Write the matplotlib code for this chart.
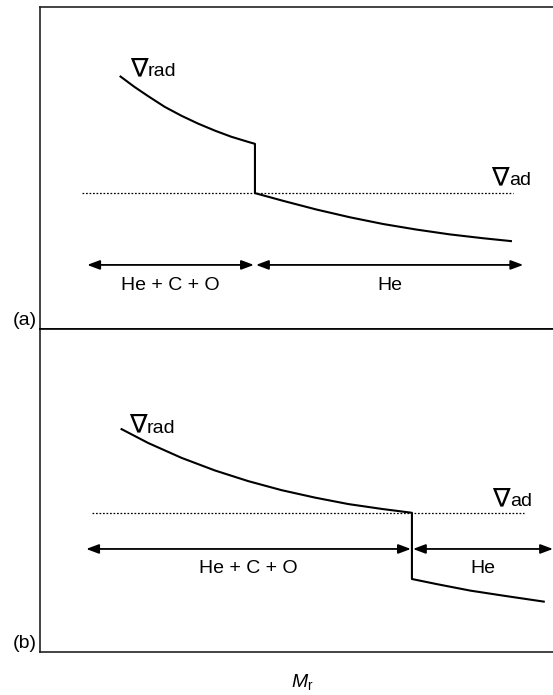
import matplotlib
matplotlib.use('Agg')
import matplotlib.pyplot as plt

plt.rcParams['font.family'] = ['Liberation Sans', 'DejaVu Sans']
plt.rcParams['mathtext.fontset'] = 'custom'
plt.rcParams['mathtext.rm'] = 'Liberation Sans'
plt.rcParams['mathtext.it'] = 'Liberation Sans:italic'

# ---- panel (a): gradient jumps down at the composition boundary
a_core_x = [15.7, 18.4, 21.0, 24.3, 27.6, 30.8, 34.1, 37.3, 40.6, 41.9]
a_core_y = [78.4, 75.2, 72.4, 69.0, 66.2, 63.8, 61.6, 59.7, 58.1, 57.5]
a_env_x = [41.9, 47.4, 53.9, 60.4, 66.9, 73.3, 79.8, 86.3, 91.8]
a_env_y = [42.2, 39.8, 37.1, 34.7, 32.6, 30.9, 29.4, 28.2, 27.3]
a_ad_y = 42.2
a_ad_x = [8.2, 92.2]
a_zones = [(9.2, 41.7, 'He + C + O'), (42.1, 94.2, 'He')]
a_zone_y = 19.9
a_label_y = 12.1

# ---- panel (b): boundary moved outwards, rad ~ ad just inside it
b_core_x = [15.9, 21.1, 27.6, 34.1, 40.6, 47.1, 53.6, 60.1, 66.6, 72.5]
b_core_y = [69.0, 64.7, 60.1, 56.2, 52.9, 50.1, 47.8, 45.8, 44.3, 43.1]
b_env_x = [72.5, 77.4, 83.9, 90.5, 98.2]
b_env_y = [22.6, 21.0, 19.0, 17.4, 15.6]
b_ad_y = 43.1
b_ad_x = [10.1, 94.3]
b_zones = [(9.0, 72.3, 'He + C + O'), (72.7, 100.0, 'He')]
b_zone_y = 31.9
b_label_y = 24.5

fig = plt.figure(figsize=(5.53, 6.95), dpi=100)
ax_a = fig.add_axes([40/553, 1 - 329/695, 513/553, 322/695])
ax_b = fig.add_axes([40/553, 1 - 652/695, 513/553, 323/695])

frame = '#222222'
fs = 14


def nabla(ax, x, x_sub, y, sub):
    # big nabla followed by the subscript word on the same baseline
    ax.text(x, y, '\u2207', ha='left', va='baseline', fontsize=19,
            family=['DejaVu Sans'])
    ax.text(x_sub, y, sub, ha='left', va='baseline', fontsize=fs)


def draw_panel(ax, cx, cy, ex, ey, ad_x, ad_y, zones, zone_y, label_y,
               rad_pos, ad_pos, tag):
    ax.set_xlim(0, 100)
    ax.set_ylim(0, 100)
    ax.set_xticks([])
    ax.set_yticks([])
    for s in ax.spines.values():
        s.set_color(frame)
        s.set_linewidth(1.2)
    ax.spines['right'].set_visible(False)

    # radiative gradient with the jump at the boundary
    xs = cx + ex
    ys = cy + ey
    ax.plot(xs, ys, color='black', lw=1.5, solid_joinstyle='round')
    # adiabatic gradient
    ax.plot(ad_x, [ad_y, ad_y], color='black', lw=0.9, linestyle=(0, (1.4, 1.4)))

    for x0, x1, lab in zones:
        ax.annotate('', xy=(x0, zone_y), xytext=(x1, zone_y),
                    arrowprops=dict(arrowstyle='<|-|>,head_length=0.75,head_width=0.28',
                                    color='black', lw=1.3, shrinkA=0, shrinkB=0))
        ax.text((x0 + x1) / 2, label_y, lab, ha='center', va='baseline', fontsize=fs)

    nabla(ax, rad_pos[0], rad_pos[0] + 3.4, rad_pos[1], 'rad')
    nabla(ax, ad_pos[0], ad_pos[0] + 3.4, ad_pos[1], 'ad')
    ax.text(-0.6, 2.5, tag, ha='right', va='center', fontsize=fs, clip_on=False)


draw_panel(ax_a, a_core_x, a_core_y, a_env_x, a_env_y, a_ad_x, a_ad_y,
           a_zones, a_zone_y, a_label_y, (17.6, 78.6), (88.0, 44.7), '(a)')
draw_panel(ax_b, b_core_x, b_core_y, b_env_x, b_env_y, b_ad_x, b_ad_y,
           b_zones, b_zone_y, b_label_y, (17.4, 67.9), (88.2, 45.2), '(b)')
# shared edge between the panels drawn by both axes so it comes out as dark
ax_a.spines['bottom'].set_color('black')
ax_b.spines['top'].set_color('black')

fig.text(302/553, 1 - 682/695, r'$M_\mathrm{r}$', ha='center', va='center', fontsize=fs)

fig.savefig('out.png', dpi=100)
